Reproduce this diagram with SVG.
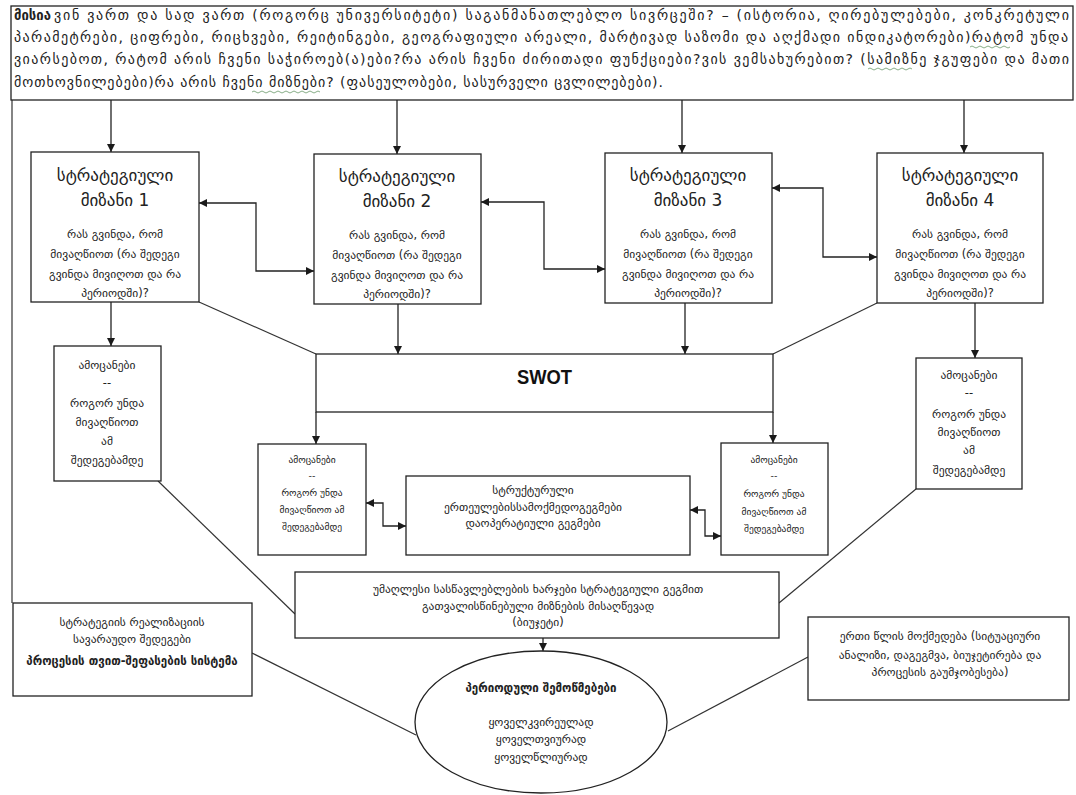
<svg xmlns="http://www.w3.org/2000/svg" width="1076" height="795" viewBox="0 0 1076 795">
<defs>
<marker id="arr" viewBox="0 0 10 10" refX="10" refY="5" markerWidth="8" markerHeight="8" markerUnits="userSpaceOnUse" orient="auto-start-reverse">
<path d="M0,0 L10,5 L0,10 z" fill="#1a1a1a"/>
</marker>
<style>
.box{fill:#fff;stroke:#222;stroke-width:1.3}
.ln{fill:none;stroke:#333;stroke-width:1.2}
.ar{fill:none;stroke:#222;stroke-width:1.3;marker-end:url(#arr)}
.ar2{fill:none;stroke:#222;stroke-width:1.3;marker-start:url(#arr);marker-end:url(#arr)}
.t{font-family:"DejaVu Sans","Noto Sans",sans-serif;fill:#222;text-anchor:middle}
.top{font-family:"DejaVu Sans","Noto Sans",sans-serif;fill:#222;font-size:14px}
.ttl{font-size:17px}
.s12{font-size:11.5px}
.s10{font-size:9.5px}
.b{font-weight:bold}
.sq{fill:none;stroke:#7aa57a;stroke-width:0.9}
</style>
</defs>
<rect width="1076" height="795" fill="#fff"/>

<g id="connectors">
<line class="ln" x1="12" y1="100" x2="12" y2="603"/>
<line class="ar" x1="111" y1="100" x2="111" y2="152"/>
<line class="ar" x1="397" y1="100" x2="397" y2="154"/>
<line class="ar" x1="682" y1="100" x2="682" y2="153"/>
<line class="ar" x1="964" y1="100" x2="964" y2="153"/>
<polyline class="ar2" points="199,203 256,203 256,271 314,271"/>
<polyline class="ar2" points="481,202 544,202 544,269 605,269"/>
<polyline class="ar2" points="772,188 823,188 823,257 877,257"/>
<line class="ar" x1="111" y1="302" x2="111" y2="346"/>
<line class="ln" x1="199" y1="302" x2="316" y2="354"/>
<line class="ar" x1="398" y1="304" x2="398" y2="354"/>
<line class="ar" x1="685" y1="303" x2="685" y2="354"/>
<line class="ln" x1="877" y1="303" x2="773" y2="354"/>
<line class="ar" x1="975" y1="303" x2="975" y2="358"/>
<line class="ar" x1="316" y1="412" x2="316" y2="444"/>
<line class="ar" x1="773" y1="412" x2="773" y2="443"/>
<polyline class="ar2" points="366,503 383,503 383,526 406,526"/>
<polyline class="ar2" points="690,510 705,510 705,536 721,536"/>
<line class="ln" x1="158" y1="481" x2="295" y2="614"/>
<line class="ln" x1="916" y1="489" x2="779" y2="603"/>
<line class="ar" x1="543" y1="638" x2="543" y2="651"/>
<line class="ln" x1="252" y1="653" x2="416" y2="735"/>
<line class="ln" x1="668" y1="731" x2="808" y2="657"/>
</g>

<g id="mission">
<rect class="box" x="11" y="6" width="1062" height="94"/>
<text class="top b" x="14" y="20" font-size="14" textLength="37" lengthAdjust="spacingAndGlyphs">მისია</text>
<text class="top" x="54" y="20" textLength="1015" lengthAdjust="spacing">ვინ ვართ და სად ვართ (როგორც უნივერსიტეტი) საგანმანათლებლო სივრცეში? – (ისტორია, ღირებულებები, კონკრეტული</text>
<text class="top" x="14" y="42" textLength="1054" lengthAdjust="spacing">პარამეტრები, ციფრები, რიცხვები, რეიტინგები, გეოგრაფიული არეალი, მარტივად საზომი და აღქმადი ინდიკატორები)რატომ უნდა</text>
<text class="top" x="14" y="64" textLength="1055" lengthAdjust="spacing">ვიარსებოთ, რატომ არის ჩვენი საჭიროებ(ა)ები?რა არის ჩვენი ძირითადი ფუნქციები?ვის ვემსახურებით? (სამიზნე ჯგუფები და მათი</text>
<text class="top" x="14" y="87" textLength="649" lengthAdjust="spacing">მოთხოვნილებები)რა არის ჩვენი მიზნები? (ფასეულობები, სასურველი ცვლილებები).</text>
<path class="sq" d="M970,47 q2,-2 4,0 t4,0 t4,0 t4,0 t4,0 t4,0 t4,0 t4,0 t4,0 t4,0"/>
<path class="sq" d="M868,69 q2,-2 4,0 t4,0 t4,0 t4,0 t4,0 t4,0 t4,0 t4,0 t4,0 t4,0 t4,0"/>
<path class="sq" d="M252,92 q2,-2 4,0 t4,0 t4,0 t4,0 t4,0 t4,0 t4,0 t4,0 t4,0 t4,0 t4,0 t4,0 t4,0 t4,0 t4,0 t4,0 t4,0"/>
</g>

<g id="goal1">
<rect class="box" x="31" y="152" width="168" height="150"/>
<text class="t ttl" x="115" y="181">სტრატეგიული</text>
<text class="t ttl" x="115" y="206">მიზანი 1</text>
<text class="t s12" x="115" y="238">რას გვინდა, რომ</text>
<text class="t s12" x="115" y="258">მივაღწიოთ (რა შედეგი</text>
<text class="t s12" x="115" y="278">გვინდა მივიღოთ და რა</text>
<text class="t s12" x="115" y="297">პერიოდში)?</text>
</g>
<g id="goal2">
<rect class="box" x="314" y="154" width="167" height="150"/>
<text class="t ttl" x="397" y="182">სტრატეგიული</text>
<text class="t ttl" x="397" y="207">მიზანი 2</text>
<text class="t s12" x="397" y="239">რას გვინდა, რომ</text>
<text class="t s12" x="397" y="259">მივაღწიოთ (რა შედეგი</text>
<text class="t s12" x="397" y="279">გვინდა მივიღოთ და რა</text>
<text class="t s12" x="397" y="298">პერიოდში)?</text>
</g>
<g id="goal3">
<rect class="box" x="605" y="153" width="167" height="150"/>
<text class="t ttl" x="688" y="181">სტრატეგიული</text>
<text class="t ttl" x="688" y="206">მიზანი 3</text>
<text class="t s12" x="688" y="238">რას გვინდა, რომ</text>
<text class="t s12" x="688" y="258">მივაღწიოთ (რა შედეგი</text>
<text class="t s12" x="688" y="278">გვინდა მივიღოთ და რა</text>
<text class="t s12" x="688" y="297">პერიოდში)?</text>
</g>
<g id="goal4">
<rect class="box" x="877" y="153" width="166" height="150"/>
<text class="t ttl" x="960" y="181">სტრატეგიული</text>
<text class="t ttl" x="960" y="206">მიზანი 4</text>
<text class="t s12" x="960" y="238">რას გვინდა, რომ</text>
<text class="t s12" x="960" y="258">მივაღწიოთ (რა შედეგი</text>
<text class="t s12" x="960" y="278">გვინდა მივიღოთ და რა</text>
<text class="t s12" x="960" y="297">პერიოდში)?</text>
</g>

<g id="tasksLeft">
<rect class="box" x="54" y="346" width="107" height="135"/>
<text class="t s12" x="107" y="369">ამოცანები</text>
<text class="t s12" x="107" y="387">--</text>
<text class="t s12" x="107" y="407">როგორ უნდა</text>
<text class="t s12" x="107" y="426">მივაღწიოთ</text>
<text class="t s12" x="107" y="445">ამ</text>
<text class="t s12" x="107" y="464">შედეგებამდე</text>
</g>
<g id="tasksRight">
<rect class="box" x="916" y="358" width="106" height="131"/>
<text class="t s12" x="969" y="379">ამოცანები</text>
<text class="t s12" x="969" y="397">--</text>
<text class="t s12" x="969" y="418">როგორ უნდა</text>
<text class="t s12" x="969" y="436">მივაღწიოთ</text>
<text class="t s12" x="969" y="454">ამ</text>
<text class="t s12" x="969" y="474">შედეგებამდე</text>
</g>

<g id="swot">
<rect class="box" x="316" y="354" width="457" height="58"/>
<text x="517" y="384" font-family="'Liberation Sans',Arial,sans-serif" font-weight="bold" font-size="20" fill="#111" textLength="55" lengthAdjust="spacingAndGlyphs">SWOT</text>
</g>

<g id="tasksMidLeft">
<rect class="box" x="258" y="444" width="108" height="111"/>
<text class="t s10" x="312" y="463">ამოცანები</text>
<text class="t s10" x="312" y="479">--</text>
<text class="t s10" x="312" y="496">როგორ უნდა</text>
<text class="t s10" x="312" y="513">მივაღწიოთ ამ</text>
<text class="t s10" x="312" y="530">შედეგებამდე</text>
</g>
<g id="structural">
<rect class="box" x="406" y="476" width="284" height="79"/>
<text class="t s12" x="533" y="494">სტრუქტურული</text>
<text class="t s12" x="533" y="511">ერთეულებისსამოქმედოგეგმები</text>
<text class="t s12" x="533" y="527">დაოპერატიული  გეგმები</text>
</g>
<g id="tasksMidRight">
<rect class="box" x="721" y="443" width="107" height="112"/>
<text class="t s10" x="774" y="463">ამოცანები</text>
<text class="t s10" x="774" y="479">--</text>
<text class="t s10" x="774" y="497">როგორ უნდა</text>
<text class="t s10" x="774" y="515">მივაღწიოთ ამ</text>
<text class="t s10" x="774" y="532">შედეგებამდე</text>
</g>

<g id="budget">
<rect class="box" x="295" y="572" width="484" height="66"/>
<text class="t s12" x="538" y="593">უმაღლესი სასწავლებლების ხარჯები სტრატეგიული გეგმით</text>
<text class="t s12" x="538" y="610">გათვალისწინებული მიზნების მისაღწევად</text>
<text class="t s12" x="538" y="626">(ბიუჯეტი)</text>
</g>

<g id="results">
<rect class="box" x="13" y="603" width="239" height="93"/>
<text class="t s12" x="132" y="626">სტრატეგიის რეალიზაციის</text>
<text class="t s12" x="132" y="643">სავარაუდო შედეგები</text>
<text class="t s12 b" x="132" y="665">პროცესის თვით-შეფასების სისტემა</text>
</g>

<g id="review">
<ellipse class="box" cx="541" cy="722" rx="126" ry="71"/>
<text class="t s12 b" x="541" y="692">პერიოდული შემოწმებები</text>
<text class="t s12" x="541" y="726">ყოველკვირეულად</text>
<text class="t s12" x="541" y="743">ყოველთვიურად</text>
<text class="t s12" x="541" y="761">ყოველწლიურად</text>
</g>

<g id="annual">
<rect class="box" x="808" y="617" width="261" height="83"/>
<text class="t s12" x="940" y="640">ერთი წლის მოქმედება (სიტუაციური</text>
<text class="t s12" x="940" y="659">ანალიზი, დაგეგმვა, ბიუჯეტირება და</text>
<text class="t s12" x="940" y="676">პროცესის გაუმჯობესება)</text>
</g>
</svg>
